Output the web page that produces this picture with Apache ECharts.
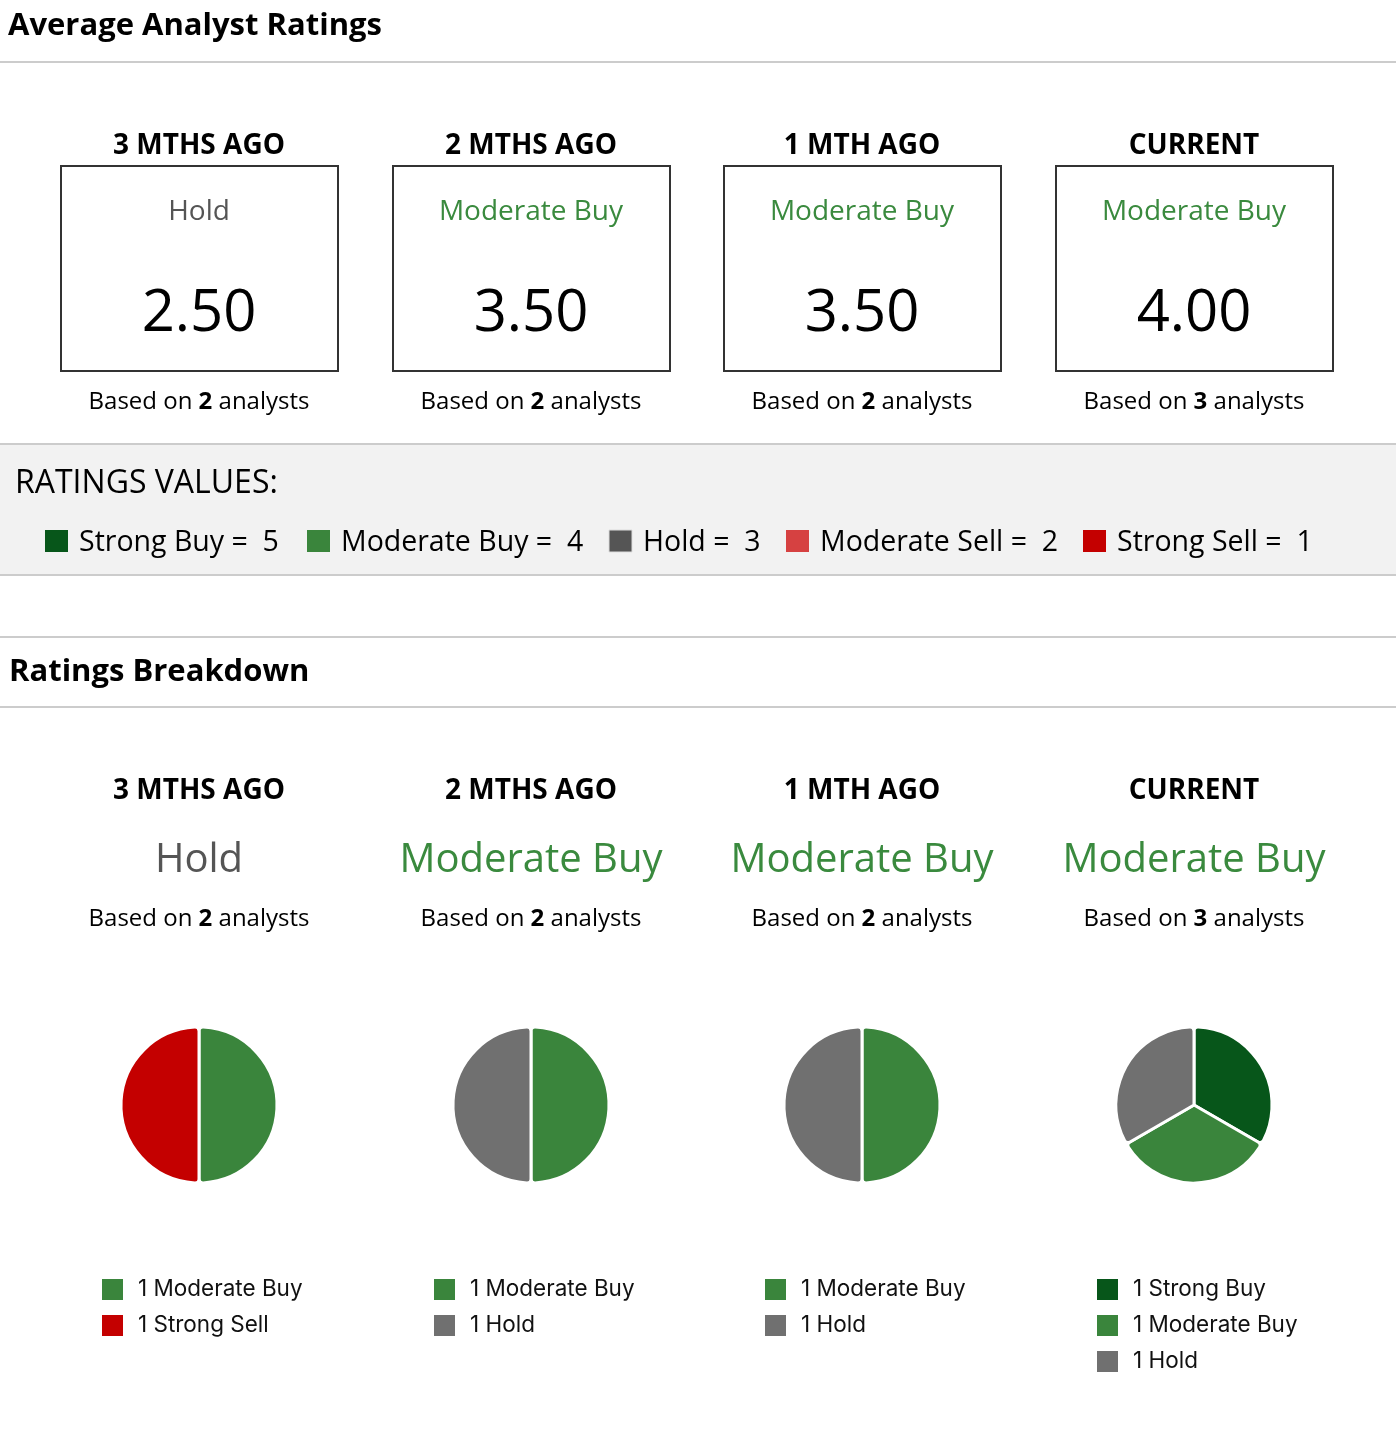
<!DOCTYPE html>
<html>
<head>
<meta charset="utf-8">
<title>Analyst Ratings</title>
<script src="https://cdn.jsdelivr.net/npm/echarts@6/dist/echarts.min.js"></script>
<style>
  html, body { margin: 0; padding: 0; background: #fff; }
  #main { width: 1396px; height: 1432px; }
</style>
</head>
<body>
<div id="main"></div>
<script>
// periods and per-period summary
const periods = ['3 MTHS AGO', '2 MTHS AGO', '1 MTH AGO', 'CURRENT'];
const avgScores = ['2.50', '3.50', '3.50', '4.00'];
const consensus = ['Hold', 'Moderate Buy', 'Moderate Buy', 'Moderate Buy'];
const analystCounts = [2, 2, 2, 3];

// rating categories and their values
const ratingNames = ['Strong Buy', 'Moderate Buy', 'Hold', 'Moderate Sell', 'Strong Sell'];
const ratingValues = [5, 4, 3, 2, 1];
const ratingColors = ['#07561a', '#3a853c', '#707070', '#d64141', '#c40000'];
const valueSwatchColors = ['#07561a', '#3a853c', '#555555', '#d64141', '#c40000'];

// analyst count per category per period
const strongBuy = [0, 0, 0, 1];
const moderateBuy = [1, 1, 1, 1];
const hold = [0, 1, 1, 1];
const moderateSell = [0, 0, 0, 0];
const strongSell = [1, 0, 0, 0];

const colX = [199, 531, 862, 1194];
const FONT = '"Open Sans", "Noto Sans", sans-serif';

function labelColor(name) {
  return name === 'Hold' ? '#555555' : '#3a8a3e';
}

const graphics = [];

function text(x, y, str, size, opts) {
  opts = opts || {};
  graphics.push({
    type: 'text',
    silent: true,
    style: {
      x: x, y: y, text: str,
      font: (opts.weight || 'normal') + ' ' + size + 'px ' + FONT,
      fill: opts.fill || '#000',
      textAlign: opts.align || 'center',
      textVerticalAlign: 'middle'
    }
  });
}

function hline(y, color) {
  graphics.push({
    type: 'line', silent: true,
    shape: { x1: 0, y1: y, x2: 1396, y2: y },
    style: { stroke: color || '#cccccc', lineWidth: 2 }
  });
}

function basedOn(x, y, n) {
  graphics.push({
    type: 'text', silent: true,
    style: {
      x: x, y: y,
      text: '{a|Based on }{b|' + n + '}{a| analysts}',
      textAlign: 'center', textVerticalAlign: 'middle',
      rich: {
        a: { fontFamily: FONT, fontSize: 24, fill: '#000', color: '#000' },
        b: { fontFamily: FONT, fontSize: 24, fontWeight: 'bold', fill: '#000', color: '#000' }
      }
    }
  });
}

// ---- Average Analyst Ratings ----
text(8, 26, 'Average Analyst Ratings', 31, { weight: 'bold', align: 'left' });
hline(62);

periods.forEach(function (p, i) {
  const cx = colX[i];
  text(cx, 146, p, 28, { weight: 'bold' });
  graphics.push({
    type: 'rect', silent: true,
    shape: { x: cx - 138, y: 166, width: 277, height: 205 },
    style: { fill: '#fff', stroke: '#333', lineWidth: 2 }
  });
  text(cx, 212, consensus[i], 28, { fill: labelColor(consensus[i]) });
  text(cx, 314, avgScores[i], 58);
  basedOn(cx, 402, analystCounts[i]);
});

// ---- Ratings values band ----
graphics.push({
  type: 'rect', silent: true,
  shape: { x: 0, y: 444, width: 1396, height: 131 },
  style: { fill: '#f2f2f2' }
});
hline(444);
hline(575);
text(15, 484, 'RATINGS VALUES:', 32, { align: 'left' });
const swatchX = [45, 307, 609, 786, 1083];
ratingNames.forEach(function (n, i) {
  graphics.push({
    type: 'rect', silent: true,
    shape: { x: swatchX[i], y: 530, width: 23, height: 22 },
    style: { fill: valueSwatchColors[i], stroke: i === 2 ? '#dddddd' : null, lineWidth: 1 }
  });
  text(swatchX[i] + 34, 543, n + ' =  ' + ratingValues[i], 28.5, { align: 'left' });
});

// ---- Ratings Breakdown ----
hline(637);
text(9, 672, 'Ratings Breakdown', 31, { weight: 'bold', align: 'left' });
hline(707);

periods.forEach(function (p, i) {
  const cx = colX[i];
  text(cx, 791, p, 28, { weight: 'bold' });
  text(cx, 861, consensus[i], 40, { fill: labelColor(consensus[i]) });
  basedOn(cx, 919, analystCounts[i]);
});

// pies + legends
const counts = [strongBuy, moderateBuy, hold, moderateSell, strongSell];
const series = [];
const legends = [];
periods.forEach(function (p, i) {
  const data = [];
  ratingNames.forEach(function (n, k) {
    if (counts[k][i] > 0) {
      data.push({ name: n, value: counts[k][i], itemStyle: { color: ratingColors[k] } });
    }
  });
  series.push({
    type: 'pie',
    name: p,
    center: [colX[i], 1105],
    radius: 78,
    startAngle: 90,
    clockwise: true,
    silent: true,
    label: { show: false },
    labelLine: { show: false },
    itemStyle: { borderColor: '#fff', borderWidth: 3, borderRadius: 4 },
    emphasis: { disabled: true },
    animation: false,
    data: data
  });
  const lookup = {};
  data.forEach(function (d) { lookup[d.name] = d.value; });
  legends.push({
    orient: 'vertical',
    left: colX[i] - 104,
    top: 1272,
    itemWidth: 23,
    itemHeight: 23,
    itemGap: 11,
    icon: 'rect',
    selectedMode: false,
    data: data.map(function (d) { return d.name; }),
    formatter: function (name) { return lookup[name] + ' ' + name; },
    textStyle: {
      fontFamily: 'Inter, "Liberation Sans", sans-serif',
      fontSize: 22.5,
      lineHeight: 22,
      color: '#111',
      padding: [0, 0, 0, 9]
    }
  });
});

const chart = echarts.init(document.getElementById('main'));
chart.setOption({
  backgroundColor: '#fff',
  animation: false,
  legend: legends,
  graphic: graphics,
  series: series
});
</script>
</body>
</html>
